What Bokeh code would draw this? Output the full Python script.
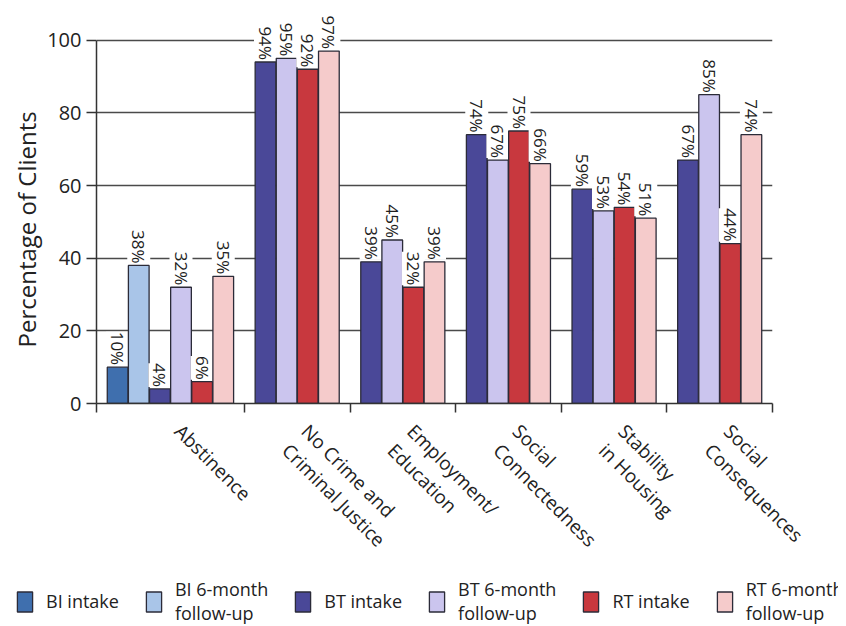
import math
from bokeh.plotting import figure
from bokeh.models import ColumnDataSource, FixedTicker, Legend, LegendItem, Title, Label
from bokeh.layouts import column
from bokeh.embed import file_html
from bokeh.resources import INLINE
from bokeh.core.properties import value

# ---------------- data ----------------
categories = ["Abstinence", "No Crime and\nCriminal Justice", "Employment/\nEducation",
              "Social\nConnectedness", "Stability\nin Housing", "Social\nConsequences"]
series = ["BI intake", "BI 6-month\nfollow-up", "BT intake", "BT 6-month\nfollow-up",
          "RT intake", "RT 6-month\nfollow-up"]
colors = ["#3f6fae", "#a9c5e8", "#4a4898", "#cbc5ee", "#c8383e", "#f5cbcb"]
bi_intake = [10, None, None, None, None, None]
bi_followup = [38, None, None, None, None, None]
bt_intake = [4, 94, 39, 74, 59, 67]
bt_followup = [32, 95, 45, 67, 53, 85]
rt_intake = [6, 92, 32, 75, 54, 44]
rt_followup = [35, 97, 39, 66, 51, 74]
y_ticks = [0, 20, 40, 60, 80, 100]
y_axis_title = "Percentage of Clients"

values = [bi_intake, bi_followup, bt_intake, bt_followup, rt_intake, rt_followup]

# ---------------- layout constants ----------------
FONT = "Open Sans"
TOTAL_W = 838
LEFT = 96            # px left of the plot frame
FRAME_W = 676
FRAME_H = 396
TOP = 7
BOTTOM = 14          # px under the frame for the x-axis line and its ticks
LOWER_H = 626 - (TOP + FRAME_H + BOTTOM)

# group layout: one slot per bar, plus one slot gap
xs = [[] for _ in series]
tops = [[] for _ in series]
labels = [[] for _ in series]
bounds = [0.0]
centers = []
pos = 0.0
for ci, cat in enumerate(categories):
    present = [si for si in range(len(series)) if values[si][ci] is not None]
    width = len(present) + 1
    for k, si in enumerate(present):
        xs[si].append(pos + 0.5 + k + 0.5)
        tops[si].append(values[si][ci])
        labels[si].append(f"{values[si][ci]}%")
    centers.append(pos + width / 2.0)
    pos += width
    bounds.append(pos)
unit_px = FRAME_W / pos

# ---------------- main chart ----------------
p = figure(frame_width=FRAME_W, frame_height=FRAME_H, x_range=(0, pos), y_range=(0, 109),
           output_backend="svg", toolbar_location=None,
           min_border_left=LEFT, min_border_right=TOTAL_W - LEFT - FRAME_W,
           min_border_top=TOP, min_border_bottom=BOTTOM)
p.outline_line_color = None
p.background_fill_color = "white"
p.border_fill_color = "white"

sources = []
for si in range(len(series)):
    src = ColumnDataSource(dict(x=xs[si], top=tops[si], label=labels[si]))
    sources.append(src)
    p.vbar(x="x", top="top", bottom=0, width=0.98, source=src,
           fill_color=colors[si], line_color="#2b2b38", line_width=1.3)
    p.text(x="x", y="top", text="label", source=src, angle=-math.pi / 2,
           text_align="right", text_baseline="middle", y_offset=-2,
           text_font=value(FONT), text_font_size="17px", text_color="#1e1e1e",
           background_fill_color="white")

# y axis
p.yaxis.ticker = FixedTicker(ticks=y_ticks)
p.yaxis.bounds = (0, 100)
p.yaxis.major_label_text_font = FONT
p.yaxis.major_label_text_font_size = "20px"
p.yaxis.major_label_text_color = "#222222"
p.yaxis.major_tick_out = 10
p.yaxis.major_tick_in = 0
p.yaxis.minor_tick_line_color = None
p.yaxis.major_label_standoff = 5
p.yaxis.axis_line_color = "#333333"
p.yaxis.axis_line_width = 1.5
p.yaxis.major_tick_line_color = "#333333"
p.yaxis.major_tick_line_width = 1.5

ytitle = Title(text=y_axis_title, align="left", offset=56, standoff=4,
               text_font=FONT, text_font_size="24px", text_font_style="normal",
               text_color="#222222")
p.add_layout(ytitle, "left")

# x axis: line plus tick marks at the group boundaries (labels drawn underneath)
p.xaxis.ticker = FixedTicker(ticks=[], minor_ticks=bounds)
p.xaxis.major_tick_out = 0
p.xaxis.major_tick_in = 0
p.xaxis.major_label_standoff = 0
p.xaxis.minor_tick_out = 9
p.xaxis.minor_tick_in = 0
p.xaxis.minor_tick_line_color = "#333333"
p.xaxis.minor_tick_line_width = 1.5
p.xaxis.axis_line_color = "#333333"
p.xaxis.axis_line_width = 1.5

p.xgrid.grid_line_color = None
p.ygrid.ticker = FixedTicker(ticks=y_ticks)
p.ygrid.grid_line_color = "#4a4a4a"
p.ygrid.grid_line_width = 1.4

# ---------------- lower strip: category labels and legend ----------------
q = figure(frame_width=TOTAL_W, frame_height=LOWER_H,
           x_range=(0, pos), y_range=(0, LOWER_H),
           x_axis_location=None, y_axis_location=None, min_border=0,
           output_backend="svg", toolbar_location=None)
q.outline_line_color = None
q.grid.visible = False
q.background_fill_color = "white"
q.border_fill_color = "white"

for c, cat in zip(centers, categories):
    q.add_layout(Label(x=c * unit_px + 17, y=LOWER_H - 1, x_units="screen", y_units="screen",
                       text=cat, angle=-math.pi / 4, text_align="left", text_baseline="top",
                       text_font=FONT, text_font_size="19px", text_color="#222222",
                       text_line_height=1.05))

legend_renderers = [q.vbar(x="x", top="top", bottom=0, width=0.98, source=sources[i],
                           fill_color=colors[i], line_color="#2b2b38", line_width=1.3,
                           visible=False) for i in range(len(series))]
legend = Legend(items=[LegendItem(label=series[i], renderers=[legend_renderers[i]])
                       for i in range(len(series))],
                orientation="horizontal", location=(15, 1),
                glyph_width=19, glyph_height=25, label_standoff=12, spacing=25,
                padding=0, margin=0, border_line_color=None, background_fill_alpha=0,
                inactive_fill_alpha=0,
                label_text_font=FONT, label_text_font_size="18px", label_text_color="#222222",
                label_text_line_height=0.8)
q.add_layout(legend)

layout = column(p, q, spacing=0)
open("out.html", "w").write(file_html(layout, INLINE))
